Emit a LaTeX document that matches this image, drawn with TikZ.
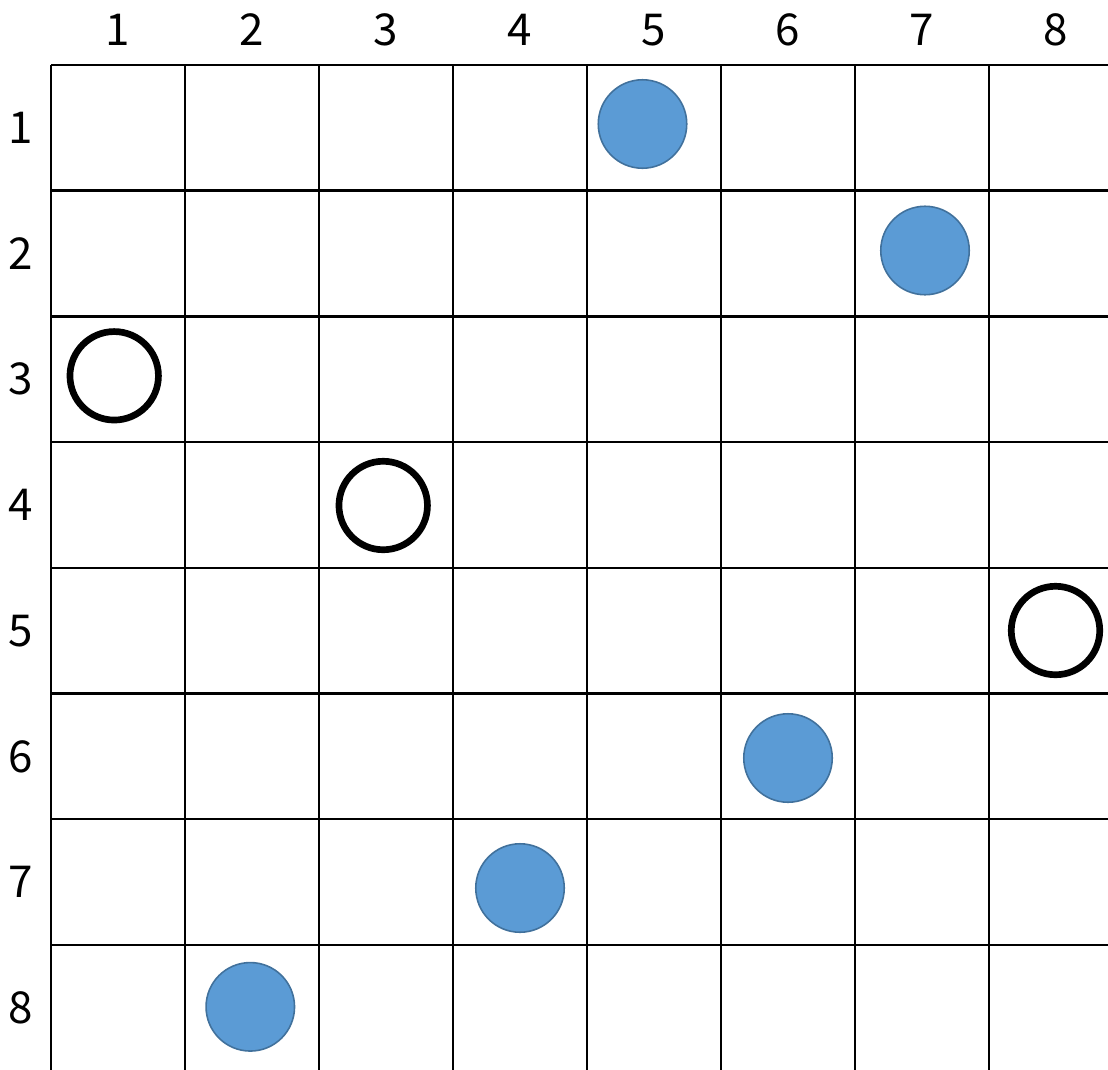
\documentclass[tikz,border=0pt]{standalone}
\usepackage{fontspec}
\setmainfont{Noto Sans CJK JP}
\definecolor{queenblue}{HTML}{5B9BD5}
\definecolor{queenedge}{HTML}{41719C}
\begin{document}
\begin{tikzpicture}[x=0.02cm,y=-0.02cm,
  gridline/.style={line width=1.4pt},
  numlabel/.style={font=\fontsize{25}{25}\selectfont},
  placed/.style={circle,inner sep=0pt,minimum size=1.77cm,fill=queenblue,draw=queenedge,line width=0.9pt},
  freed/.style={circle,inner sep=0pt,minimum size=1.77cm,draw=black,line width=3.8pt}]
\useasboundingbox (0,0) rectangle (1108,1069);
\clip (0,0) rectangle (1108,1069);

% board
\foreach \i in {0,...,8}
  \draw[gridline] ({51+134*\i},65) -- ({51+134*\i},1075);
\foreach \j in {0,...,7}
  \draw[gridline] (51,{65+125.7*\j}) -- (1115,{65+125.7*\j});

% column and row numbers
\foreach \i in {1,...,8} {
  \node[numlabel] (col\i) at ({51+134*\i-67},30) {\i};
  \node[numlabel] (row\i) at (21,{65+125.7*\i-62.85}) {\i};
}

% pieces
\node[placed] (q15) at (642.5,124) {};
\node[placed] (q27) at (925,250.5) {};
\node[freed] (e31) at (114.2,375.8) {};
\node[freed] (e43) at (383.2,505.5) {};
\node[freed] (e58) at (1055.5,630.5) {};
\node[placed] (q66) at (788,758) {};
\node[placed] (q74) at (520,888) {};
\node[placed] (q82) at (250.3,1006.8) {};
\end{tikzpicture}
\end{document}
